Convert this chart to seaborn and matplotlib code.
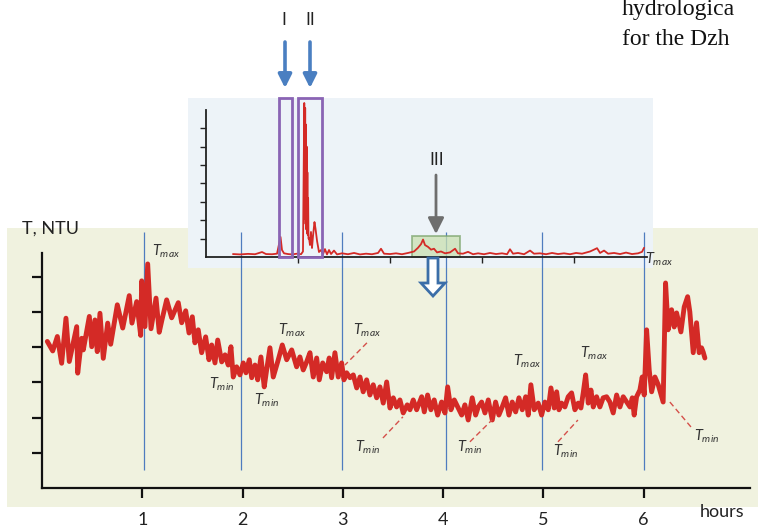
import matplotlib
matplotlib.use("Agg")
import matplotlib.pyplot as plt
import seaborn as sns
import pandas as pd
from matplotlib.patches import Rectangle, Polygon
from matplotlib.transforms import IdentityTransform

# ---------------- data ----------------
hours = [0.053, 0.107, 0.153, 0.196, 0.239, 0.272, 0.312, 0.346, 0.356, 0.396,
         0.412, 0.472, 0.496, 0.528, 0.551, 0.578, 0.611, 0.655, 0.685, 0.751,
         0.805, 0.870, 0.897, 0.944, 0.984, 0.994, 1.027, 1.054, 1.087, 1.137,
         1.169, 1.196, 1.243, 1.293, 1.359, 1.393, 1.433, 1.466, 1.499, 1.525,
         1.558, 1.592, 1.632, 1.665, 1.692, 1.725, 1.752, 1.792, 1.825, 1.857,
         1.884, 1.907, 1.941, 1.974, 2.007, 2.034, 2.067, 2.091, 2.124, 2.151,
         2.183, 2.216, 2.240, 2.273, 2.306, 2.356, 2.396, 2.440, 2.490, 2.539,
         2.572, 2.605, 2.639, 2.672, 2.705, 2.739, 2.765, 2.799, 2.838, 2.864,
         2.888, 2.921, 2.954, 2.988, 3.011, 3.038, 3.071, 3.104, 3.138, 3.171,
         3.203, 3.237, 3.270, 3.303, 3.337, 3.370, 3.403, 3.437, 3.470, 3.503,
         3.536, 3.569, 3.602, 3.642, 3.669, 3.702, 3.736, 3.786, 3.812, 3.845,
         3.878, 3.911, 3.945, 3.985, 4.018, 4.045, 4.078, 4.111, 4.145, 4.185,
         4.217, 4.250, 4.290, 4.324, 4.350, 4.384, 4.417, 4.450, 4.490, 4.523,
         4.556, 4.589, 4.623, 4.656, 4.689, 4.723, 4.756, 4.789, 4.823, 4.849,
         4.875, 4.908, 4.948, 4.982, 5.015, 5.048, 5.075, 5.108, 5.132, 5.155,
         5.181, 5.214, 5.247, 5.281, 5.314, 5.347, 5.374, 5.397, 5.421, 5.447,
         5.474, 5.497, 5.530, 5.563, 5.596, 5.630, 5.663, 5.696, 5.730, 5.763,
         5.796, 5.830, 5.863, 5.886, 5.905, 5.929, 5.962, 5.985, 6.005, 6.029,
         6.055, 6.079, 6.112, 6.145, 6.194, 6.218, 6.244, 6.278, 6.304, 6.328,
         6.371, 6.404, 6.438, 6.460, 6.494, 6.527, 6.553, 6.577, 6.593, 6.610]
ntu = [4.16, 3.89, 4.30, 3.54, 4.82, 3.59, 4.12, 4.58, 3.26, 4.25,
       3.92, 4.87, 4.01, 4.77, 3.87, 4.96, 3.68, 4.68, 4.08, 5.20,
       4.54, 5.46, 4.68, 5.29, 4.33, 5.88, 4.58, 6.36, 4.52, 5.39,
       4.42, 4.77, 5.34, 4.83, 5.26, 4.69, 5.03, 4.40, 4.86, 4.12,
       4.49, 3.84, 4.29, 3.64, 4.06, 3.55, 4.20, 3.58, 3.78, 3.49,
       4.01, 3.15, 3.44, 3.21, 3.55, 3.27, 3.64, 3.13, 3.49, 3.07,
       3.72, 2.87, 3.35, 3.98, 3.15, 3.64, 4.06, 3.64, 3.92, 3.44,
       3.72, 3.35, 3.58, 3.84, 3.15, 3.69, 3.07, 3.55, 3.30, 3.69,
       3.13, 3.84, 3.15, 3.55, 3.07, 3.27, 3.13, 3.21, 2.84, 3.15,
       2.73, 3.07, 2.64, 2.93, 2.56, 2.87, 2.41, 3.01, 2.27, 2.56,
       2.30, 2.50, 2.13, 2.36, 2.22, 2.50, 2.22, 2.59, 2.16, 2.64,
       2.22, 2.50, 2.07, 2.44, 2.13, 2.87, 2.22, 2.50, 2.30, 2.07,
       2.36, 1.93, 2.56, 2.07, 2.30, 2.44, 2.13, 2.50, 1.93, 2.44,
       2.07, 2.30, 2.56, 2.07, 2.44, 2.16, 2.56, 2.22, 2.59, 2.07,
       2.93, 2.22, 2.41, 2.07, 2.44, 2.22, 2.84, 2.27, 2.73, 2.22,
       2.41, 2.30, 2.59, 2.70, 2.22, 2.41, 2.27, 2.70, 3.21, 2.41,
       2.78, 2.30, 2.59, 2.30, 2.56, 2.59, 2.44, 2.13, 2.64, 2.30,
       2.59, 2.44, 2.30, 2.56, 2.07, 2.59, 2.78, 3.15, 2.64, 4.49,
       3.35, 2.73, 3.15, 2.93, 2.44, 5.82, 4.49, 5.06, 4.57, 4.97,
       4.43, 5.14, 5.43, 5.00, 3.84, 4.69, 3.84, 3.98, 3.86, 3.69]

inset_t = [0.293, 0.370, 0.457, 0.533, 0.609, 0.652, 0.717, 0.772, 0.810, 0.826,
           0.848, 0.891, 0.935, 0.989, 1.033, 1.054, 1.068, 1.073, 1.078, 1.082,
           1.086, 1.090, 1.094, 1.098, 1.102, 1.106, 1.110, 1.114, 1.120,
           1.130, 1.141, 1.152, 1.163, 1.179, 1.190, 1.207, 1.228, 1.250, 1.272,
           1.293, 1.315, 1.337, 1.359, 1.391, 1.424, 1.478, 1.543, 1.609, 1.674,
           1.739, 1.804, 1.870, 1.902, 1.935, 2.000, 2.065, 2.130, 2.196, 2.261,
           2.304, 2.337, 2.359, 2.380, 2.413, 2.446, 2.478, 2.511, 2.554, 2.598,
           2.652, 2.707, 2.739, 2.793, 2.848, 2.902, 2.957, 3.022, 3.087, 3.152,
           3.217, 3.272, 3.304, 3.337, 3.391, 3.457, 3.522, 3.565, 3.630, 3.696,
           3.761, 3.826, 3.891, 3.957, 4.022, 4.087, 4.174, 4.217, 4.250, 4.283,
           4.326, 4.370, 4.435, 4.500, 4.565, 4.630, 4.696, 4.739, 4.761]
inset_v = [0.16, 0.14, 0.17, 0.15, 0.27, 0.16, 0.15, 0.18, 1.09, 0.38,
           0.20, 0.16, 0.14, 0.18, 0.15, 0.30, 8.37, 2.10, 8.10, 1.80,
           7.20, 1.50, 6.00, 1.30, 4.60, 1.20, 3.20, 1.00, 1.03,
           0.65, 1.36, 0.49, 1.14, 1.90, 1.55, 0.87, 0.27, 0.38, 0.16,
           0.43, 0.14, 0.38, 0.16, 0.35, 0.14, 0.20, 0.15, 0.22, 0.14,
           0.18, 0.15, 0.22, 0.45, 0.18, 0.16, 0.20, 0.15, 0.22, 0.30,
           0.50, 0.70, 0.95, 0.65, 0.55, 0.40, 0.45, 0.25, 0.30, 0.20,
           0.25, 0.45, 0.20, 0.18, 0.28, 0.15, 0.20, 0.15, 0.22, 0.16,
           0.20, 0.15, 0.42, 0.18, 0.22, 0.15, 0.35, 0.18, 0.20, 0.15,
           0.22, 0.16, 0.20, 0.15, 0.22, 0.18, 0.30, 0.40, 0.48, 0.22,
           0.35, 0.18, 0.22, 0.16, 0.24, 0.16, 0.20, 0.28, 0.50]

hour_marks = [1.02, 1.98, 2.99, 4.03, 4.99, 6.00]
x_ticks = [1, 2, 3, 4, 5, 6]
x_tick_labels = ["1", "2", "3", "4", "5", "6"]
y_ticks = [1, 2, 3, 4, 5, 6]
inset_xticks = [1, 2, 3, 4]
inset_yticks = [1, 2, 3, 4, 5, 6, 7]
# boxes in the inset: (start, end, top)
box_I = (0.793, 0.935, 8.64)
box_II = (1.000, 1.261, 8.64)
box_III = (2.239, 2.761, 1.14)

# T labels: (kind, x, y)
t_labels = [("max", 1.236, 6.73), ("min", 1.795, 2.95), ("min", 2.243, 2.50),
            ("max", 2.493, 4.49), ("max", 3.240, 4.49), ("min", 3.250, 1.16),
            ("min", 4.267, 1.16), ("max", 4.836, 3.61), ("min", 5.224, 1.05),
            ("max", 5.503, 3.81), ("max", 6.152, 6.48), ("min", 6.630, 1.48)]
leaders = [((3.240, 4.12), (3.021, 3.49)), ((3.400, 1.42), (3.599, 2.02)),
           ((4.267, 1.31), (4.487, 1.93)), ((5.145, 1.31), (5.344, 1.93)),
           ((6.261, 2.44), (6.481, 1.70))]

# ---------------- style ----------------
sns.set_theme(style="white")
plt.rcParams["font.family"] = ["Lato", "DejaVu Sans"]
plt.rcParams["mathtext.fontset"] = "custom"
plt.rcParams["mathtext.it"] = "Lato:italic"
plt.rcParams["mathtext.rm"] = "Lato"

RED = "#d42a26"
VBLUE = "#4f7cbf"
MAIN_BG = "#f0f2df"
INSET_BG = "#edf3f8"
TXT = "#222222"

W, H = 758, 530
fig = plt.figure(figsize=(W / 100, H / 100), dpi=100)
fig.patch.set_facecolor("white")

# background panels
fig.patches.append(Rectangle((7 / W, 23 / H), 753 / W, 279 / H, transform=fig.transFigure,
                             facecolor=MAIN_BG, edgecolor="none", zorder=-10))
fig.patches.append(Rectangle((188 / W, 262 / H), 465 / W, 170 / H, transform=fig.transFigure,
                             facecolor=INSET_BG, edgecolor="none", zorder=-5))

# ---------------- main axes ----------------
ax = fig.add_axes([42 / W, 42 / H, 708 / W, 235 / H])
ax.set_facecolor("none")
df = pd.DataFrame({"hours": hours, "ntu": ntu})
sns.lineplot(data=df, x="hours", y="ntu", ax=ax, color=RED, linewidth=3.5,
             estimator=None, sort=False, zorder=3)
ax.vlines(hour_marks, 0.51, 7.27, color=VBLUE, linewidth=0.9, clip_on=False, zorder=2)
ax.set_xlim(0, 7.06)
ax.set_ylim(0, 6.67)
ax.set_xticks(x_ticks)
ax.set_xticklabels(x_tick_labels)
ax.set_yticks(y_ticks)
ax.set_yticklabels([])
ax.set_xlabel("")
ax.set_ylabel("")
for s in ["top", "right"]:
    ax.spines[s].set_visible(False)
for s in ["left", "bottom"]:
    ax.spines[s].set_color("#111111")
    ax.spines[s].set_linewidth(1.6)
ax.tick_params(axis="both", direction="out", length=7, width=1.6, color="#111111",
               bottom=True, left=True)
ax.tick_params(axis="x", labelsize=13, pad=10, labelcolor=TXT)

for kind, x, y in t_labels:
    ax.text(x, y, r"$T_{%s}$" % kind, fontsize=10.5, color="#333333",
            ha="center", va="center", clip_on=False, zorder=5)
for (x0, y0), (x1, y1) in leaders:
    ax.plot([x0, x1], [y0, y1], color="#d5504a", linewidth=1.0, linestyle=(0, (4, 2.5)),
            clip_on=False, zorder=4)

# ---------------- inset axes ----------------
axi = fig.add_axes([206 / W, 273 / H, 441 / W, 160.08 / H])
axi.set_facecolor("none")
axi.set_zorder(1)
dfi = pd.DataFrame({"t": inset_t, "v": inset_v})
sns.lineplot(data=dfi, x="t", y="v", ax=axi, color=RED, linewidth=1.3,
             estimator=None, sort=False, zorder=3)
axi.set_xlim(0, 4.793)
axi.set_ylim(0, 8.7)
axi.set_xticks(inset_xticks)
axi.set_xticklabels([])
axi.set_yticks(inset_yticks)
axi.set_yticklabels([])
axi.set_xlabel("")
axi.set_ylabel("")
for s in ["top", "right"]:
    axi.spines[s].set_visible(False)
for s in ["left", "bottom"]:
    axi.spines[s].set_color("#222222")
    axi.spines[s].set_linewidth(1.3)
axi.spines["left"].set_bounds(0, 8.0)
axi.tick_params(axis="both", direction="out", length=4.5, width=1.0, color="#222222",
                bottom=True, left=True)

for (a, b, top) in [box_I, box_II]:
    axi.add_patch(Rectangle((a, 0), b - a, top, facecolor="none", edgecolor="#8a64b4",
                            linewidth=2.0, clip_on=False, zorder=4))
a, b, top = box_III
axi.add_patch(Rectangle((a, 0), b - a, top, facecolor="#c9e0b0", alpha=0.75,
                        edgecolor="#7ea56e", linewidth=1.3, clip_on=False, zorder=1))

# arrows above the inset
for x in (285, 310):
    axi.annotate("", xy=(x, 442), xytext=(x, 488), xycoords="figure pixels",
                 textcoords="figure pixels", annotation_clip=False,
                 arrowprops=dict(arrowstyle="-|>", color="#4a7fc1", lw=2.6,
                                 mutation_scale=20, shrinkA=0, shrinkB=0))
axi.annotate("", xy=(436, 296), xytext=(436, 355), xycoords="figure pixels",
             textcoords="figure pixels", annotation_clip=False,
             arrowprops=dict(arrowstyle="-|>", color="#6e6e6e", lw=2.0,
                             mutation_scale=24, shrinkA=0, shrinkB=0))
fig.text(284 / W, 1 - 20 / H, "I", fontsize=12.5, color=TXT, ha="center", va="center")
fig.text(310 / W, 1 - 20 / H, "II", fontsize=12.5, color=TXT, ha="center", va="center")
fig.text(437 / W, 1 - 160 / H, "III", fontsize=12.5, color=TXT, ha="center", va="center")

# hollow arrow below the inset
verts = [(428, 272), (438, 272), (438, 247), (445, 247), (433, 234), (421, 247), (428, 247)]
fig.patches.append(Polygon(verts, closed=True, transform=IdentityTransform(),
                           facecolor="white", edgecolor="#3b6ea8", linewidth=2.0, zorder=6))

# ---------------- texts ----------------
fig.text(22 / W, 1 - 229 / H, "T, NTU", fontsize=13, color=TXT, ha="left", va="center")
fig.text(700 / W, 1 - 512 / H, "hours", fontsize=13, color=TXT, ha="left", va="center")
fig.text(622 / W, 1 - 15 / H, "hydrologica", fontsize=17, color="#111111",
         family="Liberation Serif", ha="left", va="baseline")
fig.text(622 / W, 1 - 45 / H, "for the Dzh", fontsize=17, color="#111111",
         family="Liberation Serif", ha="left", va="baseline")

fig.savefig("out.png", dpi=100)
